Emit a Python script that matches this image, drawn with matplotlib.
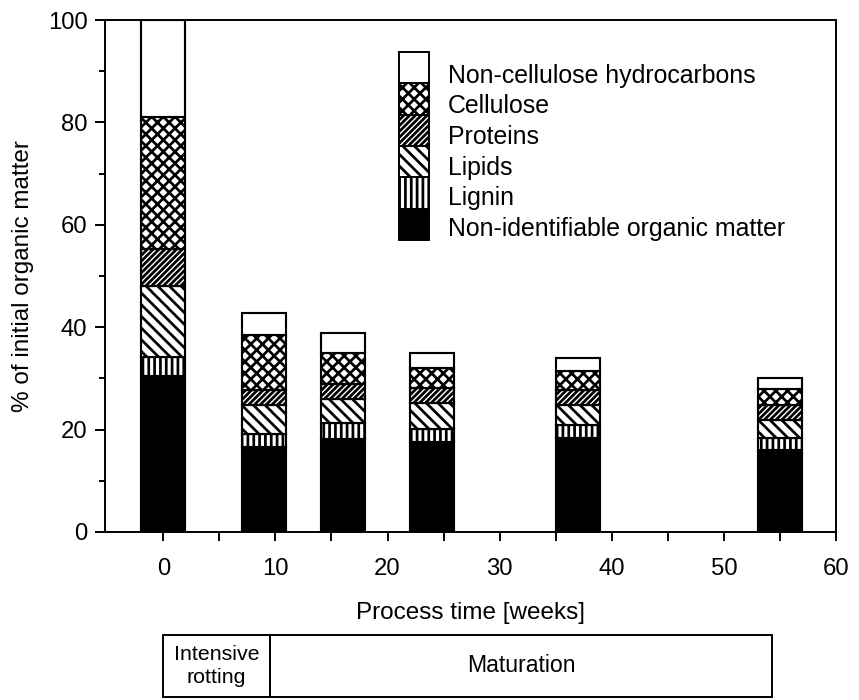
import matplotlib
matplotlib.use("Agg")
import matplotlib.pyplot as plt
import matplotlib.transforms as mtransforms
from matplotlib.patches import Rectangle
import numpy as np

plt.rcParams['font.family'] = ['Liberation Sans', 'DejaVu Sans']
plt.rcParams['hatch.linewidth'] = 1.4

# process time of each sample [weeks]
weeks = [0, 9, 16, 24, 37, 55]

# fractions, % of initial organic matter (stacked bottom -> top)
non_identifiable = [30.5, 16.6, 18.2, 17.6, 18.3, 16.0]
lignin = [3.7, 2.6, 3.1, 2.5, 2.6, 2.3]
lipids = [13.8, 5.6, 4.7, 5.1, 3.9, 3.6]
proteins = [7.3, 2.9, 2.9, 2.9, 2.9, 3.0]
cellulose = [25.7, 10.8, 6.1, 3.9, 3.8, 3.0]
non_cellulose_hc = [19.0, 4.2, 3.8, 3.0, 2.5, 2.2]

names = ['Non-identifiable organic matter', 'Lignin', 'Lipids', 'Proteins',
         'Cellulose', 'Non-cellulose hydrocarbons']
series = [non_identifiable, lignin, lipids, proteins, cellulose, non_cellulose_hc]
faces = ['black', 'white', 'white', 'white', 'white', 'white']
hatches = [None, '||||', '\\' * 4, '/' * 8, 'xxxx', None]

# phases below the time axis
phases = ['Intensive\nrotting', 'Maturation']
phase_edges = [0, 9.5, 54.3]

dpi = 140
fig = plt.figure(figsize=(859 / dpi, 700 / dpi), dpi=dpi)
ax = fig.add_axes([0.1222, 0.24, 0.851, 0.7314])

bottom = np.zeros(len(weeks))
for vals, fc, h in zip(series, faces, hatches):
    ax.bar(weeks, vals, width=3.9, bottom=bottom, facecolor=fc,
           edgecolor='black', hatch=h, linewidth=1.1, zorder=2)
    bottom += np.array(vals)

ax.set_xlim(-5.2, 60)
ax.set_ylim(0, 100)
ax.set_xticks(np.arange(0, 61, 10))
ax.set_xticks(np.arange(0, 61, 5), minor=True)
ax.set_yticks(np.arange(0, 101, 20))
ax.set_yticks(np.arange(0, 101, 10), minor=True)
ax.tick_params(axis='x', which='both', direction='out', length=4.6, width=1.0,
               labelsize=12.3, pad=9)
ax.tick_params(axis='y', which='major', direction='out', length=5, width=1.0,
               labelsize=12.3, pad=4)
ax.tick_params(axis='y', which='minor', direction='out', length=3, width=1.0)
for s in ax.spines.values():
    s.set_linewidth(1.0)

ax.set_xlabel('Process time [weeks]', fontsize=12.5, labelpad=11)
ax.set_ylabel('% of initial organic matter', fontsize=12.5, labelpad=7)

# legend drawn as one stacked column of swatches
sx0, sx1 = 0.402, 0.443
sy_top, sy_bot = 0.9375, 0.570
row_h = (sy_top - sy_bot) / len(names)
ty = np.linspace(0.891, 0.592, len(names))
for i, (name, fc, h) in enumerate(zip(names[::-1], faces[::-1], hatches[::-1])):
    y0 = sy_top - (i + 1) * row_h
    ax.add_patch(Rectangle((sx0, y0), sx1 - sx0, row_h, transform=ax.transAxes,
                           facecolor=fc, edgecolor='black', hatch=h,
                           linewidth=1.0, zorder=3))
    ax.text(0.469, ty[i], name, transform=ax.transAxes, fontsize=12.8,
            va='center', ha='left')

# phase table under the axis
trans = mtransforms.blended_transform_factory(ax.transData, fig.transFigure)
ytop, ybot = 1 - 635 / 700, 1 - 697 / 700
for label, x0, x1 in zip(phases, phase_edges[:-1], phase_edges[1:]):
    fig.add_artist(Rectangle((x0, ybot), x1 - x0, ytop - ybot, transform=trans,
                             facecolor='none', edgecolor='black', linewidth=1.0))
    if '\n' in label:
        fig.text((x0 + x1) / 2, (ytop + ybot) / 2, label, transform=trans,
                 ha='center', va='center', fontsize=11, linespacing=1.3)
    else:
        fig.text((x0 + x1) / 2, (ytop + ybot) / 2, label, transform=trans,
                 ha='center', va='center', fontsize=11.8)

fig.savefig('out.png', dpi=dpi)
